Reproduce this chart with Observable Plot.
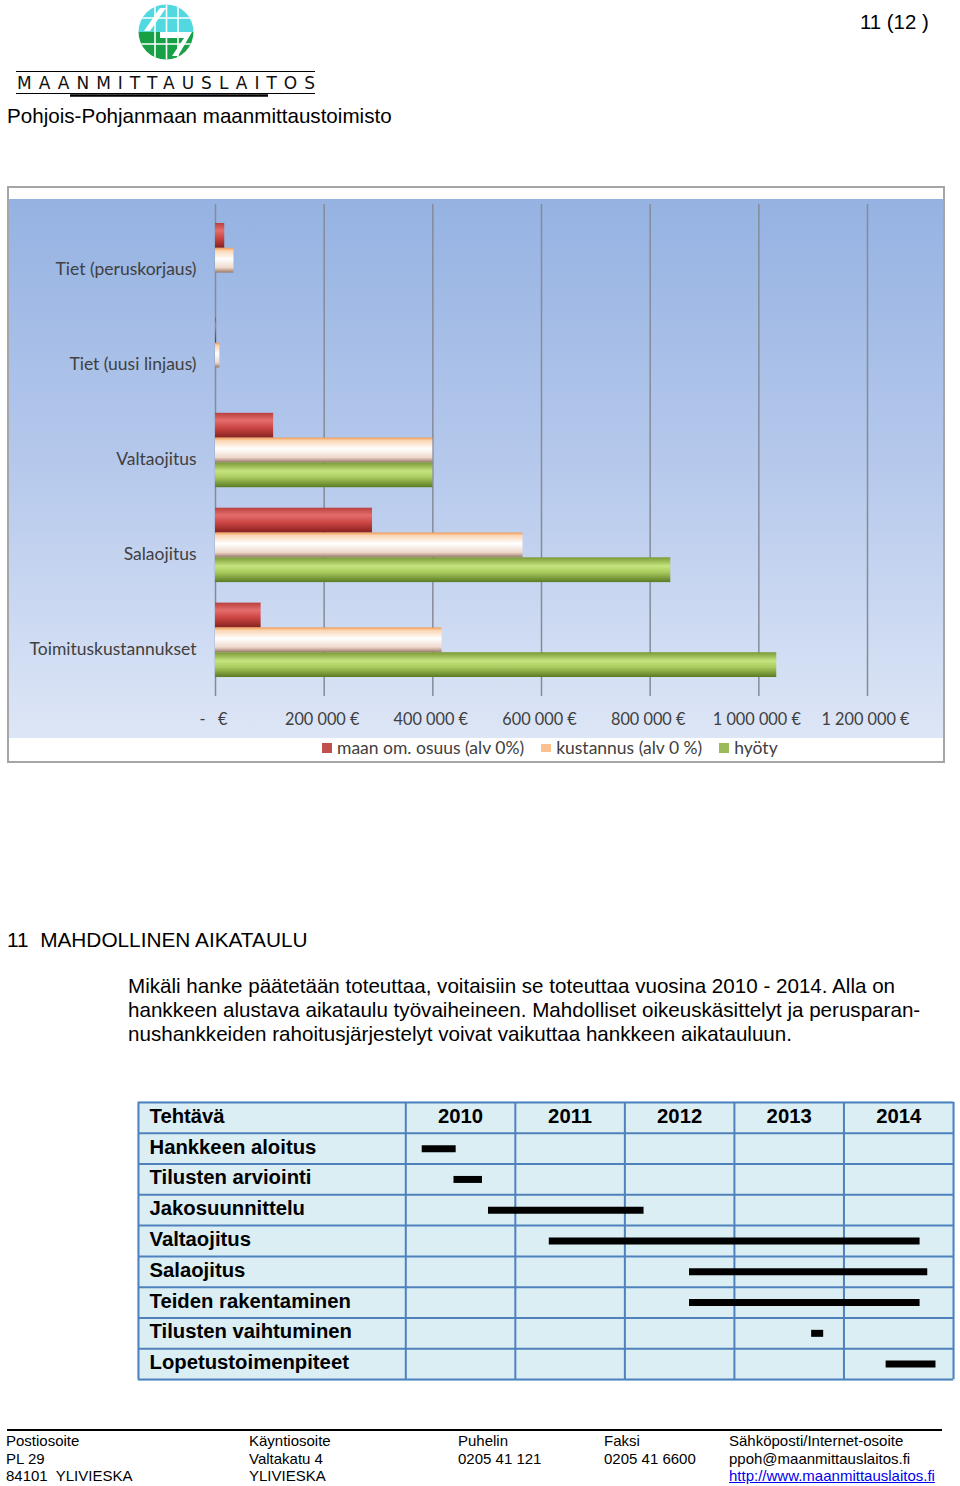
<!DOCTYPE html>
<html>
<head>
<meta charset="utf-8">
<script src="https://cdn.jsdelivr.net/npm/d3@7"></script>
<script src="https://cdn.jsdelivr.net/npm/@observablehq/plot@0.6"></script>
<style>
  html, body { margin: 0; padding: 0; background: #fff; }
  body { width: 960px; height: 1486px; position: relative; overflow: hidden; font-family: "Liberation Sans", Arial, sans-serif; color: #000; }
  .abs { position: absolute; white-space: nowrap; line-height: 1; }
  #chartFrame { position: absolute; left: 7px; top: 186px; width: 934px; height: 573px; border: 2px solid #a6a6a6; background: #fff; }
  #chartBg { position: absolute; left: 0; top: 11px; width: 934px; height: 539px; background: linear-gradient(to bottom, #95b2e2 0%, #b6c9ec 50%, #dde6f6 100%); }
  #legend { position: absolute; top: 549px; left: 313px; display: flex; align-items: center; font-family: Lato, "Open Sans", sans-serif; font-size: 17.5px; color: #404040; }
  #legend .item { display: flex; align-items: center; margin-right: 17px; }
  #legend .sw { width: 10px; height: 10px; margin-right: 5px; }
  .foot { position: absolute; font-size: 15px; line-height: 17.5px; white-space: nowrap; }
</style>
</head>
<body>
<script>
// ---------------- DATA ----------------
const categories = ["Tiet (peruskorjaus)", "Tiet (uusi linjaus)", "Valtaojitus", "Salaojitus", "Toimituskustannukset"];
const seriesNames = ["maan om. osuus (alv 0%)", "kustannus (alv 0 %)", "hyöty"];
const maanOmOsuus = [17000, 2000, 107000, 289000, 84000];
const kustannus = [34000, 8000, 400000, 566000, 417000];
const hyoty = [0, 0, 400000, 838000, 1033000];
const xTicks = [0, 200000, 400000, 600000, 800000, 1000000, 1200000];

const years = [2010, 2011, 2012, 2013, 2014];
const headerLabel = "Tehtävä";
const tasks = ["Hankkeen aloitus", "Tilusten arviointi", "Jakosuunnittelu", "Valtaojitus", "Salaojitus", "Teiden rakentaminen", "Tilusten vaihtuminen", "Lopetustoimenpiteet"];
const taskStart = [2010.15, 2010.44, 2010.755, 2011.31, 2012.59, 2012.59, 2013.705, 2014.385];
const taskEnd   = [2010.46, 2010.70, 2012.175, 2014.695, 2014.765, 2014.695, 2013.815, 2014.84];
</script>

<!-- Logo -->
<svg class="abs" style="left:0;top:0" width="330" height="100">
  <defs>
    <clipPath id="logoClip"><circle cx="166" cy="32" r="27.5"/></clipPath>
  </defs>
  <g clip-path="url(#logoClip)">
    <rect x="130" y="0" width="80" height="32" fill="#52d9df"/>
    <rect x="130" y="32" width="80" height="40" fill="#17a046"/>
    <g stroke="#fff" stroke-width="1.6">
      <line x1="155" y1="0" x2="155" y2="70"/>
      <line x1="166.5" y1="0" x2="166.5" y2="70"/>
      <line x1="178" y1="0" x2="178" y2="70"/>
      <line x1="130" y1="18" x2="210" y2="18"/>
      <line x1="130" y1="44" x2="210" y2="44"/>
    </g>
    <polygon points="160,8 166,8 150,31 144,31" fill="#fff"/>
    <polygon points="160,32 192,32 178,56 172,56 184,38 160,38" fill="#fff"/>
  </g>
  <line x1="16" y1="71.5" x2="315" y2="71.5" stroke="#000" stroke-width="1"/>
  <text x="17" y="89" font-family="DejaVu Sans" font-size="17" textLength="298" lengthAdjust="spacing" fill="#111">MAANMITTAUSLAITOS</text>
  <line x1="16" y1="93.5" x2="315" y2="93.5" stroke="#000" stroke-width="1"/>
  <line x1="70" y1="95.5" x2="268" y2="95.5" stroke="#000" stroke-width="2.5"/>
</svg>

<div class="abs" style="left:7px;top:106px;font-size:20.6px;">Pohjois-Pohjanmaan maanmittaustoimisto</div>
<div class="abs" style="left:860px;top:12px;font-size:20.4px;">11 (12 )</div>

<div id="chartFrame">
  <div id="chartBg"></div>
  <div id="chartHolder" style="position:absolute;left:0;top:11px;"></div>
  <div id="legend"></div>
</div>

<div class="abs" style="left:7px;top:930px;font-size:20.8px;">11&nbsp; MAHDOLLINEN AIKATAULU</div>
<div class="abs" style="left:128px;top:975.5px;font-size:20.6px;">Mikäli hanke päätetään toteuttaa, voitaisiin se toteuttaa vuosina 2010 - 2014. Alla on</div>
<div class="abs" style="left:128px;top:999.5px;font-size:20.6px;">hankkeen alustava aikataulu työvaiheineen. Mahdolliset oikeuskäsittelyt ja perusparan-</div>
<div class="abs" style="left:128px;top:1023.5px;font-size:20.6px;">nushankkeiden rahoitusjärjestelyt voivat vaikuttaa hankkeen aikatauluun.</div>

<div id="ganttHolder" style="position:absolute;left:137px;top:1101px;"></div>

<div style="position:absolute;left:7px;top:1429px;width:935px;height:2px;background:#000;"></div>
<div class="foot" style="left:6px;top:1432px;">Postiosoite<br>PL 29<br>84101&nbsp; YLIVIESKA</div>
<div class="foot" style="left:249px;top:1432px;">Käyntiosoite<br>Valtakatu 4<br>YLIVIESKA</div>
<div class="foot" style="left:458px;top:1432px;">Puhelin<br>0205 41 121</div>
<div class="foot" style="left:604px;top:1432px;">Faksi<br>0205 41 6600</div>
<div class="foot" style="left:729px;top:1432px;">Sähköposti/Internet-osoite<br>ppoh@maanmittauslaitos.fi<br><span style="color:#0000ee;text-decoration:underline;">http://www.maanmittauslaitos.fi</span></div>

<script>
// ---------------- BAR CHART ----------------
const W = 934, H = 539, mT = 5, mB = 42, mL = 206, mR = 76;
const pInner = 0.216, pOuter = 0.2;
const step = (H - mT - mB) / (categories.length - pInner + 2 * pOuter);
const bw = step * (1 - pInner);
const third = bw / 3;

const redData = categories.map((c, i) => ({category: c, value: maanOmOsuus[i]}));
const peachData = categories.map((c, i) => ({category: c, value: kustannus[i]}));
const greenData = categories.map((c, i) => ({category: c, value: hyoty[i]}));

const fmtEuro = d => d === 0 ? "-\u00a0\u00a0\u00a0€" : d3.format(",")(d).replace(/,/g, "\u00a0") + "\u00a0€";
const chartFont = "Lato, 'Open Sans', sans-serif";

const chart = Plot.plot({
  width: W, height: H,
  marginTop: mT, marginBottom: mB, marginLeft: mL, marginRight: mR,
  style: {background: "transparent", fontFamily: chartFont, fontSize: "16px", color: "#404040", overflow: "visible"},
  x: {domain: [0, 1200000], axis: null},
  y: {domain: categories, paddingInner: pInner, paddingOuter: pOuter, round: false, axis: null},
  marks: [
    Plot.ruleX(xTicks, {stroke: "#858b99", strokeWidth: 1.5}),
    Plot.barX(redData, {y: "category", x: "value", fill: "url(#gRed)", insetBottom: 2 * third}),
    Plot.barX(peachData, {y: "category", x: "value", fill: "url(#gPeach)", insetTop: third, insetBottom: third}),
    Plot.barX(greenData, {y: "category", x: "value", fill: "url(#gGreen)", insetTop: 2 * third}),
    Plot.text(categories, {y: d => d, text: d => d, frameAnchor: "left", textAnchor: "end", dx: -19, dy: 9, fill: "#404040", fontSize: 17.5}),
    Plot.text(xTicks, {x: d => d, text: fmtEuro, frameAnchor: "bottom", dy: 23.5, dx: -2, lineAnchor: "middle", fill: "#404040", fontSize: 16.3})
  ]
});

d3.select(chart).insert("defs", ":first-child").html(`
  <linearGradient id="gRed" x1="0" y1="0" x2="0" y2="1">
    <stop offset="0" stop-color="#b9403e"/>
    <stop offset="0.3" stop-color="#e46e6c"/>
    <stop offset="0.6" stop-color="#cc4644"/>
    <stop offset="1" stop-color="#86211f"/>
  </linearGradient>
  <linearGradient id="gPeach" x1="0" y1="0" x2="0" y2="1">
    <stop offset="0" stop-color="#f39a52"/>
    <stop offset="0.12" stop-color="#fbd6b4"/>
    <stop offset="0.45" stop-color="#ffffff"/>
    <stop offset="0.8" stop-color="#eed8cb"/>
    <stop offset="1" stop-color="#9a7868"/>
  </linearGradient>
  <linearGradient id="gGreen" x1="0" y1="0" x2="0" y2="1">
    <stop offset="0" stop-color="#7a9a36"/>
    <stop offset="0.35" stop-color="#c6e47f"/>
    <stop offset="0.6" stop-color="#aacb5e"/>
    <stop offset="1" stop-color="#5b7a25"/>
  </linearGradient>`);
document.getElementById("chartHolder").appendChild(chart);

// legend
const swatchColors = ["#c0504d", "#fac08f", "#9bbb59"];
const legend = d3.select("#legend");
seriesNames.forEach((name, i) => {
  const item = legend.append("div").attr("class", "item");
  item.append("div").attr("class", "sw").style("background", swatchColors[i]).style("height", i === 1 ? "8px" : "10px");
  item.append("span").text(name);
});

// ---------------- GANTT TABLE ----------------
const labelColumnYears = 2.44;
const xMin = years[0] - labelColumnYears;
const xMax = years[years.length - 1] + 1;
const rowLabels = [headerLabel, ...tasks];
const rowBoundaries = d3.range(rowLabels.length + 1);
const colBoundaries = [xMin, ...years, xMax];
const tableFont = "'Liberation Sans', Arial, sans-serif";

const gantt = Plot.plot({
  width: 818, height: 280,
  marginTop: 1, marginBottom: 2, marginLeft: 1, marginRight: 2,
  style: {background: "#dbeef4", fontFamily: tableFont, fontSize: "20px", color: "#000", overflow: "visible"},
  x: {domain: [xMin, xMax], axis: null},
  y: {domain: [0, rowLabels.length], reverse: true, axis: null},
  marks: [
    Plot.ruleY(rowBoundaries, {stroke: "#4f81bd", strokeWidth: 2}),
    Plot.ruleX(colBoundaries, {stroke: "#4f81bd", strokeWidth: 2}),
    Plot.text(rowLabels, {x: xMin, y: (d, i) => i + 0.5, text: d => d, textAnchor: "start", dx: 11, dy: -1.5, fontWeight: "bold", fontSize: 20.3, fill: "#000"}),
    Plot.text(years, {x: d => d + 0.5, y: 0.5, text: d => String(d), textAnchor: "middle", dy: -1.5, fontWeight: "bold", fontSize: 20.3, fill: "#000"}),
    Plot.ruleY(tasks, {x1: (d, i) => taskStart[i], x2: (d, i) => taskEnd[i], y: (d, i) => i + 1.5, stroke: "#000", strokeWidth: 7})
  ]
});
document.getElementById("ganttHolder").appendChild(gantt);
</script>
</body>
</html>
